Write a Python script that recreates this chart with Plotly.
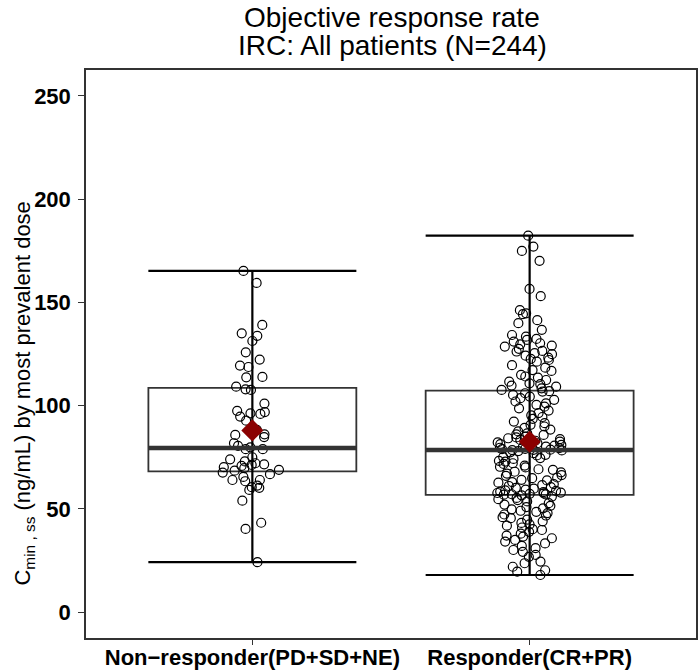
import plotly.graph_objects as go

# categories on the x axis
categories = ["Non−responder(PD+SD+NE)", "Responder(CR+PR)"]

# individual Cmin,ss values (ng/mL)
non_responder = [165.2, 159.4, 139.1, 135.0, 133.8, 131.3, 125.8, 122.3, 119.4, 118.7,
                 113.9, 113.7, 109.2, 107.9, 107.6, 101.0, 97.5, 96.9, 96.3, 96.0,
                 94.7, 92.7, 88.3, 86.1, 85.8, 84.8, 81.8, 80.5, 79.8, 78.9,
                 78.9, 75.0, 74.0, 73.0, 72.1, 71.6, 71.3, 70.8, 70.2, 69.7,
                 68.9, 68.5, 67.6, 66.8, 65.5, 64.0, 64.0, 63.4, 61.3, 60.5,
                 60.2, 59.2, 54.0, 43.3, 40.3, 24.2]

responder = [182.3, 177.0, 174.9, 170.1, 156.5, 153.0, 146.2, 144.7, 144.3, 141.4,
             139.9, 136.7, 134.2, 133.4, 132.3, 131.8, 131.0, 130.2, 129.7, 129.1,
             128.6, 127.5, 126.5, 126.2, 125.4, 124.9, 124.2, 123.2, 122.6, 122.1,
             121.3, 119.6, 118.4, 117.2, 116.8, 114.9, 114.1, 113.6, 112.4, 111.6,
             110.8, 110.4, 109.7, 109.2, 108.4, 107.6,
             107.0, 106.8, 106.0, 105.2, 104.4, 103.6, 102.8, 102.0, 101.1, 100.4,
             99.5, 98.7, 97.6, 96.4, 95.3, 94.5, 93.6, 92.3, 91.5, 90.7,
             89.9, 89.2, 88.4, 87.5, 86.6, 86.1, 85.8, 85.0, 84.6, 84.2,
             83.8, 83.4, 83.0, 82.6, 82.2, 81.8, 81.4, 81.0, 80.6, 80.2,
             79.9, 79.6, 79.4, 79.1, 78.9, 78.7, 78.6, 78.5,
             78.3, 78.0, 77.4, 77.0, 76.2, 75.9, 75.1, 74.6, 74.2, 73.3,
             72.9, 72.1, 71.8, 71.0, 70.4, 70.1, 69.2, 68.9, 68.0, 67.7,
             67.1, 66.4, 66.0, 65.2, 64.9, 64.1, 63.8, 63.0, 62.7, 62.0,
             61.5, 61.1, 60.5, 60.2, 59.8, 59.3, 59.0, 58.7, 58.4, 58.1,
             57.9, 57.7, 57.5, 57.3, 57.1, 57.0, 56.9,
             56.6, 56.0, 55.3, 54.7, 54.3, 53.6, 52.8, 52.1, 51.5, 50.9,
             50.3, 49.8, 49.1, 48.6, 48.0, 47.3, 46.8, 46.0, 45.5, 44.8,
             44.0, 43.2, 42.5, 41.9, 41.0, 40.2, 39.8, 38.9, 38.0, 37.1,
             36.6, 35.8, 35.0, 34.2, 33.3, 32.1, 31.0, 30.1, 29.2, 27.7,
             26.8, 24.5, 23.7, 22.0, 20.3, 19.6, 18.0]

# summary statistics shown by the boxes
whisker_low = [24.2, 18.0]
q1 = [68.2, 56.8]
median = [79.5, 78.5]
q3 = [108.6, 107.3]
whisker_high = [165.2, 182.3]
mean = [88.0, 82.5]

y_ticks = [0, 50, 100, 150, 200, 250]

title_lines = ["Objective response rate", "IRC: All patients (N=244)"]
y_title = "C<sub>min , ss</sub> (ng/mL) by most prevalent dose"

FONT = "Liberation Sans, Arial, sans-serif"
GREY = "#333333"

fig = go.Figure()

# vertical line min..max with caps (drawn under the box)
fig.add_trace(go.Scatter(
    x=categories, y=median, mode="markers",
    marker=dict(color="rgba(0,0,0,0)", size=2),
    error_y=dict(type="data", symmetric=False,
                 array=[h - m for h, m in zip(whisker_high, median)],
                 arrayminus=[m - l for m, l in zip(median, whisker_low)],
                 width=104, thickness=2.2, color="black"),
    hoverinfo="skip"))

# the box itself, no fill
fig.add_trace(go.Box(
    x=categories, q1=q1, median=median, q3=q3,
    lowerfence=q1, upperfence=q3, boxpoints=False,
    width=0.75, whiskerwidth=0,
    fillcolor="rgba(0,0,0,0)", line=dict(color=GREY, width=1.8)))

# thicker median line (line-ew half length is 1.4 * size / 2)
fig.add_trace(go.Scatter(
    x=categories, y=median, mode="markers",
    marker=dict(symbol="line-ew", size=149, line=dict(width=4.5, color=GREY)),
    hoverinfo="skip"))

# mean marker (under the open circles)
fig.add_trace(go.Scatter(
    x=categories, y=mean, mode="markers",
    marker=dict(symbol="diamond", size=17, color="#8B0000")))

# jittered points
for cat, vals in zip(categories, [non_responder, responder]):
    fig.add_trace(go.Box(
        x=[cat] * len(vals), y=vals, boxpoints="all", jitter=0.32, pointpos=0,
        width=0.75, whiskerwidth=0,
        fillcolor="rgba(0,0,0,0)", line=dict(color="rgba(0,0,0,0)", width=0),
        marker=dict(symbol="circle-open", size=9, color="black",
                    line=dict(width=1.2))))

# title lines and y title as annotations
annotations = [
    dict(text=title_lines[0], x=0.502, y=1.093, xref="paper", yref="paper",
         xanchor="center", yanchor="middle", showarrow=False,
         font=dict(size=28, color="black")),
    dict(text=title_lines[1], x=0.502, y=1.044, xref="paper", yref="paper",
         xanchor="center", yanchor="middle", showarrow=False,
         font=dict(size=28, color="black")),
    dict(text=y_title, x=-0.102, y=0.43, xref="paper", yref="paper",
         xanchor="center", yanchor="middle", textangle=-90, showarrow=False,
         font=dict(size=22, color="black")),
]

fig.update_layout(
    width=699, height=671,
    margin=dict(l=86, r=3, t=70, b=33),
    paper_bgcolor="white", plot_bgcolor="white",
    boxmode="overlay", showlegend=False,
    font=dict(family=FONT, color="black"),
    annotations=annotations,
)

fig.update_xaxes(
    type="category", range=[-0.6, 1.6],
    showline=True, mirror=True, linecolor=GREY, linewidth=1.5,
    ticks="outside", ticklen=5, tickcolor=GREY, tickwidth=1.2,
    tickfont=dict(size=22, color="black", weight="bold"),
    ticklabelstandoff=-6,
    showgrid=False, zeroline=False, automargin=False)

fig.update_yaxes(
    range=[-12.5, 262.5], tickvals=y_ticks,
    showline=True, mirror=True, linecolor=GREY, linewidth=1.5,
    ticks="outside", ticklen=6, tickcolor=GREY, tickwidth=1.2,
    tickfont=dict(size=22, color="black", weight="bold"),
    ticklabelstandoff=3,
    showgrid=False, zeroline=False, automargin=False)

fig.write_html("out.html", config={"displayModeBar": False},
               post_script="document.body.style.margin = '0';")
